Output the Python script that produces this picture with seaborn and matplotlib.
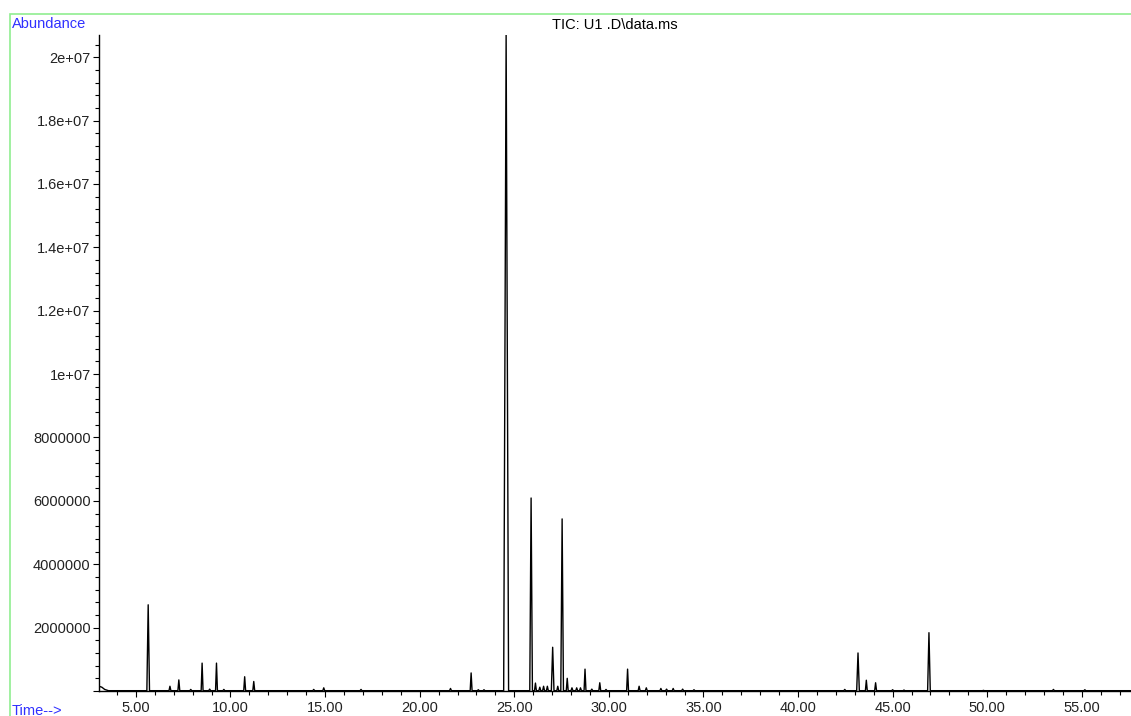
import numpy as np
import pandas as pd
import matplotlib
matplotlib.use("Agg")
import matplotlib.pyplot as plt
import seaborn as sns
from matplotlib.ticker import MultipleLocator, FuncFormatter
from matplotlib.patches import Rectangle

sns.set_style("white")
plt.rcParams["font.family"] = ["Liberation Sans", "DejaVu Sans"]

# peak list (retention time in min, abundance)
peak_times = [5.65, 6.80, 7.27, 7.90, 8.50, 8.90, 9.26, 9.65, 10.75, 11.23,
              14.40, 14.93, 16.90, 21.63, 22.72, 23.10, 23.40, 24.57, 25.89,
              26.12, 26.35, 26.55, 26.75, 27.03, 27.30, 27.53, 27.80, 28.05,
              28.30, 28.50, 28.74, 29.10, 29.52, 29.85, 30.99, 31.60, 31.98,
              32.75, 33.05, 33.40, 33.90, 34.50, 42.47, 43.17, 43.61, 44.10,
              45.00, 45.60, 46.92, 49.80, 53.50, 55.16]
peak_heights = [2.72e6, 0.15e6, 0.35e6, 0.05e6, 0.88e6, 0.06e6, 0.88e6, 0.05e6,
                0.45e6, 0.30e6, 0.05e6, 0.10e6, 0.05e6, 0.08e6, 0.57e6, 0.04e6,
                0.04e6, 20.7e6, 6.09e6, 0.25e6, 0.12e6, 0.15e6, 0.15e6, 1.38e6,
                0.15e6, 5.43e6, 0.40e6, 0.10e6, 0.10e6, 0.10e6, 0.69e6, 0.06e6,
                0.26e6, 0.05e6, 0.69e6, 0.15e6, 0.10e6, 0.08e6, 0.06e6, 0.08e6,
                0.06e6, 0.04e6, 0.05e6, 1.20e6, 0.34e6, 0.26e6, 0.04e6, 0.03e6,
                1.84e6, 0.02e6, 0.05e6, 0.04e6]

# solvent tail at the start of the run
start_times = [3.05, 3.20, 3.35, 3.55]
start_heights = [0.15e6, 0.12e6, 0.05e6, 0.01e6]
end_time = 57.6

rows = list(zip(start_times, start_heights))
for t, h in zip(peak_times, peak_heights):
    w = 0.13 if h > 1.5e7 else (0.07 if h > 1e6 else 0.05)
    rows += [(t - w, 0.01e6), (t, h), (t + w, 0.01e6)]
rows.append((end_time, 0.01e6))
trace = pd.DataFrame(rows, columns=["time", "abundance"]).sort_values("time")

fig = plt.figure(figsize=(11.31, 7.16), dpi=100)
ax = fig.add_axes([99 / 1131, 1 - 691 / 716, 1 - 99 / 1131, (691 - 35) / 716])

sns.lineplot(data=trace, x="time", y="abundance", ax=ax, color="black",
             linewidth=1.0, estimator=None, sort=False)

ax.set_xlim(3.05, end_time)
ax.set_ylim(0, 20.7e6)
ax.set_xlabel("")
ax.set_ylabel("")
sns.despine(ax=ax)
for s in ["left", "bottom"]:
    ax.spines[s].set_color("black")
    ax.spines[s].set_linewidth(1.0)

ax.xaxis.set_major_locator(MultipleLocator(5))
ax.xaxis.set_minor_locator(MultipleLocator(1))
ax.xaxis.set_major_formatter(FuncFormatter(lambda v, p: f"{v:.2f}"))
ax.yaxis.set_major_locator(MultipleLocator(2e6))
ax.yaxis.set_minor_locator(MultipleLocator(4e5))
ax.yaxis.set_major_formatter(FuncFormatter(
    lambda v, p: "" if v == 0 else (f"{v:g}" if v >= 1e7 else f"{int(v)}")))

ax.tick_params(axis="both", which="both", direction="out", color="black",
               bottom=True, left=True, width=0.8)
ax.tick_params(axis="both", which="major", length=4, labelsize=10.5,
               labelcolor="#222222", pad=2)
ax.tick_params(axis="both", which="minor", length=3)
ax.tick_params(axis="x", which="major", pad=3)

# instrument-style frame and labels
fig.patches.append(Rectangle((10 / 1131, -0.05), 1.0, 1 - 14 / 716 + 0.05,
                             transform=fig.transFigure, fill=False,
                             edgecolor="#90ee90", linewidth=1.2))
fig.text(12 / 1131, 1 - 24 / 716, "Abundance", color="#3030ff",
         fontsize=10.5, va="center", ha="left")
fig.text(12 / 1131, 1 - 711 / 716, "Time-->", color="#3030ff",
         fontsize=10.5, va="center", ha="left")
fig.text(615 / 1131, 1 - 25 / 716, "TIC: U1 .D\\data.ms", color="black",
         fontsize=10.5, va="center", ha="center")

fig.savefig("out.png", dpi=100)
